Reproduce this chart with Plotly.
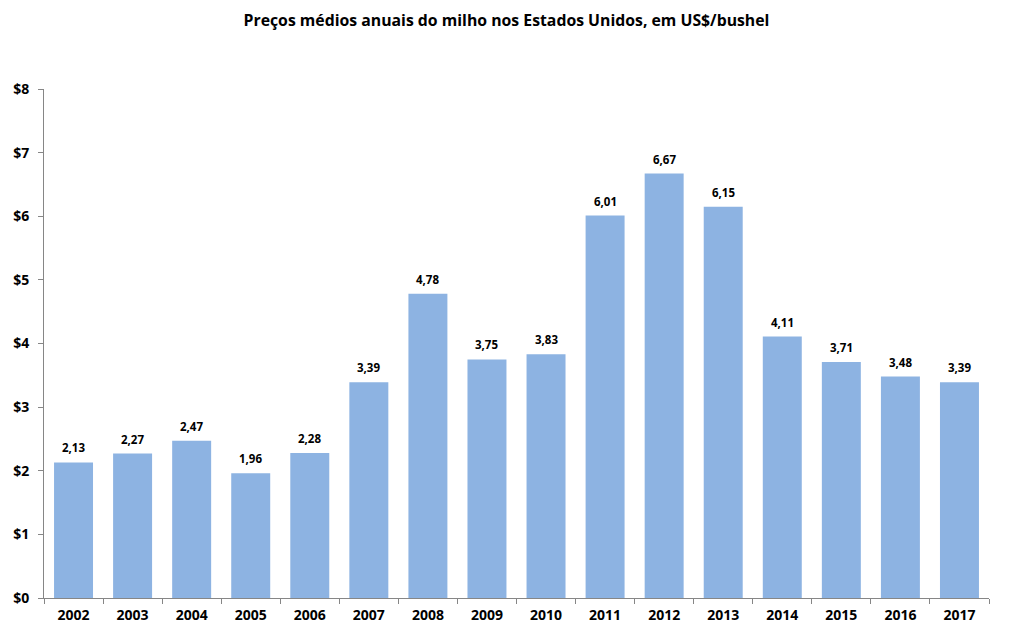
import plotly.graph_objects as go

years = ["2002", "2003", "2004", "2005", "2006", "2007", "2008", "2009",
         "2010", "2011", "2012", "2013", "2014", "2015", "2016", "2017"]
prices = [2.13, 2.27, 2.47, 1.96, 2.28, 3.39, 4.78, 3.75,
          3.83, 6.01, 6.67, 6.15, 4.11, 3.71, 3.48, 3.39]
y_ticks = [0, 1, 2, 3, 4, 5, 6, 7, 8]
y_tick_labels = ["$" + str(v) for v in y_ticks]
labels = [f"{v:.2f}".replace(".", ",") for v in prices]

FONT = "Open Sans"

fig = go.Figure(go.Bar(
    x=years, y=prices,
    marker=dict(color="#8DB3E2", line=dict(width=0)),
    cliponaxis=False,
))

for i, (val, lab) in enumerate(zip(prices, labels)):
    fig.add_annotation(x=i, y=val, xref="x", yref="y", text=f"<b>{lab}</b>",
                       showarrow=False, yanchor="bottom", yshift=5,
                       font=dict(family=FONT, size=11.5, color="#000000"))

fig.update_layout(
    width=1013, height=632,
    margin=dict(l=44, r=24, t=89, b=34),
    paper_bgcolor="white", plot_bgcolor="white",
    bargap=0.34,
    showlegend=False,
    title=dict(text="<b>Preços médios anuais do milho nos Estados Unidos, em US$/bushel</b>",
               x=0.5, xanchor="center", y=0.967, yanchor="middle",
               font=dict(family=FONT, size=15.8, color="#000000")),
    xaxis=dict(type="category", range=[-0.5, len(years) - 0.5], automargin=False,
               showline=True, linecolor="#868686", linewidth=1,
               ticks="outside", tickson="boundaries", ticklen=5, tickcolor="#868686",
               ticklabelstandoff=4, tickangle=0,
               tickfont=dict(family=FONT, size=14, color="#000000", weight="bold"),
               showgrid=False, zeroline=False),
    yaxis=dict(range=[0, 8], automargin=False,
               showline=True, linecolor="#868686", linewidth=1,
               ticks="outside", ticklen=5, tickcolor="#868686", ticklabelstandoff=6,
               tickvals=y_ticks, ticktext=y_tick_labels, showgrid=False, zeroline=False,
               tickfont=dict(family=FONT, size=14, color="#000000", weight="bold")),
)

fig.write_html("out.html")
